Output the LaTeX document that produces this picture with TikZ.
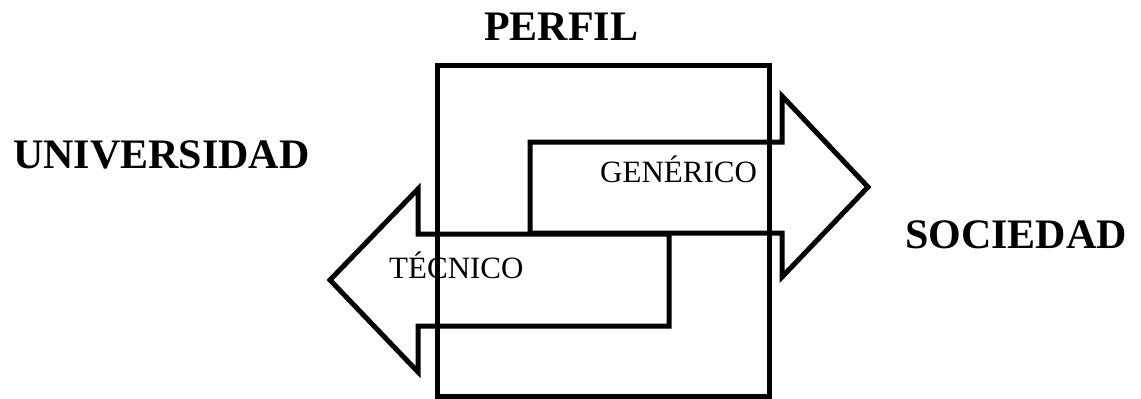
\documentclass[tikz,border=0pt]{standalone}
\usepackage{fontspec}
\setmainfont{Liberation Serif}
\begin{document}
\begin{tikzpicture}[x=1pt,y=-1pt,
  outline/.style={draw=black,line width=5pt,line join=miter},
  bigbold/.style={font=\fontsize{42}{46}\selectfont\bfseries,inner sep=0pt,anchor=base west},
  small/.style={font=\fontsize{31}{34}\selectfont,inner sep=0pt,anchor=base west}]
\useasboundingbox (0,0) rectangle (1141,399);
% arrows
\draw[outline] (530,142) -- (782,142) -- (782,96) -- (868,187) -- (782,277) -- (782,233) -- (530,233) -- cycle;
\draw[outline] (669,234) -- (418,234) -- (418,189) -- (330,280) -- (418,372) -- (418,326) -- (669,326) -- cycle;
% profile box
\draw[outline] (437.5,65) rectangle (769,396);
% labels
\node[bigbold] (perfil) at (484,40) {PERFIL};
\node[bigbold] (univ) at (13,168) {UNIVERSIDAD};
\node[bigbold] (soc) at (905,248) {SOCIEDAD};
\node[small] (gen) at (600,182) {GENÉRICO};
\node[small] (tec) at (389,278) {TÉCNICO};
\end{tikzpicture}
\end{document}
